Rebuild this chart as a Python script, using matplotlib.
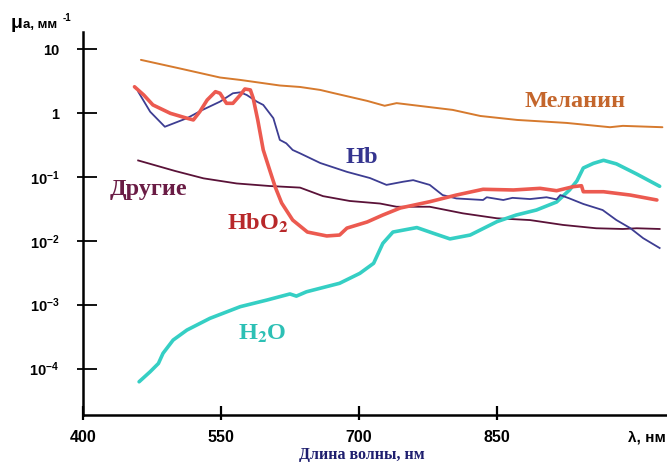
import matplotlib
matplotlib.use('Agg')
import matplotlib.pyplot as plt
from matplotlib.ticker import FixedLocator, NullFormatter

# ---- data (wavelength, nm ; absorption coefficient, mm^-1) ----
wl_melanin = [463, 505, 549, 571, 614, 636, 658, 672, 709, 728, 741, 802, 832, 872, 926, 973, 987, 1030]
mua_melanin = [6.8, 5.0, 3.6, 3.3, 2.7, 2.56, 2.3, 2.06, 1.55, 1.30, 1.43, 1.12, 0.90, 0.78, 0.70, 0.60, 0.63, 0.60]

wl_hb = [460, 473, 489, 513, 530, 549, 563, 571, 578, 589, 596, 607, 614, 621, 628, 636, 658, 687, 712,
         730, 748, 759, 777, 791, 806, 835, 839, 857, 867, 886, 904, 915, 919, 929, 944, 965, 980, 995, 1009, 1027]
mua_hb = [2.16, 1.05, 0.61, 0.83, 1.12, 1.51, 2.04, 2.11, 1.92, 1.51, 1.34, 0.83, 0.38, 0.336, 0.264, 0.234,
          0.165, 0.12, 0.096, 0.075, 0.084, 0.089, 0.075, 0.052, 0.046, 0.0435, 0.048, 0.0435, 0.047, 0.045,
          0.048, 0.0445, 0.052, 0.046, 0.0377, 0.0303, 0.0211, 0.0158, 0.0110, 0.0077]

wl_hbo2 = [456, 466, 476, 495, 513, 520, 527, 535, 544, 549, 556, 563, 571, 576, 582, 585, 590, 596, 603,
           609, 616, 628, 644, 665, 679, 687, 709, 726, 745, 777, 806, 835, 868, 897, 915, 933, 942, 944,
           966, 995, 1024]
mua_hbo2 = [2.58, 1.92, 1.34, 0.99, 0.83, 0.78, 1.05, 1.60, 2.16, 2.04, 1.42, 1.42, 1.92, 2.38, 2.30, 1.72,
            0.78, 0.264, 0.128, 0.0695, 0.039, 0.0211, 0.0137, 0.0119, 0.0123, 0.0158, 0.0197, 0.0253,
            0.0326, 0.0409, 0.052, 0.064, 0.0624, 0.0662, 0.0608, 0.0703, 0.0728, 0.0586, 0.0586, 0.052, 0.0435]

wl_h2o = [461, 473, 482, 487, 498, 513, 538, 571, 600, 625, 632, 643, 679, 701, 716, 726, 737, 763, 781,
          799, 821, 850, 871, 893, 915, 929, 937, 944, 955, 966, 980, 1002, 1027]
mua_h2o = [6.2e-5, 8.9e-5, 1.2e-4, 1.73e-4, 2.79e-4, 4.0e-4, 6.1e-4, 9.3e-4, 1.18e-3, 1.47e-3, 1.36e-3,
           1.59e-3, 2.16e-3, 3.09e-3, 4.44e-3, 9.1e-3, 0.0137, 0.0161, 0.0131, 0.0107, 0.0123, 0.0199,
           0.0253, 0.0303, 0.0405, 0.0624, 0.0863, 0.138, 0.163, 0.182, 0.160, 0.111, 0.0713]

wl_other = [460, 500, 531, 567, 603, 636, 661, 690, 723, 741, 777, 813, 850, 886, 922, 958, 987, 1002, 1027]
mua_other = [0.181, 0.124, 0.095, 0.079, 0.072, 0.068, 0.050, 0.042, 0.0383, 0.0341, 0.0341, 0.0269,
             0.0225, 0.0211, 0.0177, 0.0157, 0.0153, 0.0157, 0.0153]

xtick_values = [400, 550, 700, 850]
xtick_labels = ['400', '550', '700', '850']
ytick_values = [1e-4, 1e-3, 1e-2, 1e-1, 1, 10]
ytick_labels = ['$10^{-4}$', '$10^{-3}$', '$10^{-2}$', '$10^{-1}$', '1', '10']

# ---- style ----
plt.rcParams['font.family'] = ['Liberation Sans', 'DejaVu Sans']
plt.rcParams['mathtext.fontset'] = 'custom'
plt.rcParams['mathtext.rm'] = 'Liberation Sans:bold'
plt.rcParams['mathtext.it'] = 'Liberation Sans:bold'
plt.rcParams['mathtext.bf'] = 'Liberation Sans:bold'

W, H = 667, 462
fig = plt.figure(figsize=(W / 100, H / 100), dpi=100)
ax = fig.add_axes([83 / W, 1 - 415 / H, 1 - 83 / W, (415 - 32) / H])
ax.set_yscale('log')
ax.set_xlim(400, 1035)
ax.set_ylim(10 ** -4.728, 10 ** 1.269)

ax.plot(wl_melanin, mua_melanin, color='#D67A2E', lw=1.4, solid_capstyle='round')
ax.plot(wl_other, mua_other, color='#5A1238', lw=1.3)
ax.plot(wl_h2o, mua_h2o, color='#35CFC4', lw=2.6, solid_capstyle='round')
ax.plot(wl_hb, mua_hb, color='#3D3D92', lw=1.3)
ax.plot(wl_hbo2, mua_hbo2, color='#EC5A50', lw=2.6, solid_capstyle='round')

for s in ['top', 'right']:
    ax.spines[s].set_visible(False)
for s in ['left', 'bottom']:
    ax.spines[s].set_linewidth(1.8)

ax.xaxis.set_major_locator(FixedLocator(xtick_values))
ax.set_xticklabels(xtick_labels)
ax.xaxis.set_minor_locator(FixedLocator(xtick_values))
ax.xaxis.set_minor_formatter(NullFormatter())
ax.xaxis.remove_overlapping_locs = False
ax.yaxis.set_major_locator(FixedLocator(ytick_values))
ax.set_yticklabels(ytick_labels)
ax.yaxis.set_minor_locator(FixedLocator(ytick_values))
ax.yaxis.set_minor_formatter(NullFormatter())
ax.yaxis.remove_overlapping_locs = False

ax.tick_params(axis='x', which='major', direction='in', length=6.5, width=1.6, pad=11,
               labelsize=11.5)
ax.tick_params(axis='x', which='minor', direction='out', length=3.3, width=1.6)
ax.tick_params(axis='y', which='major', direction='in', length=10, width=1.3, pad=17,
               labelsize=10.5)
ax.tick_params(axis='y', which='minor', direction='out', length=4.5, width=1.3)
for lab in ax.get_xticklabels() + ax.get_yticklabels():
    lab.set_fontweight('bold')

# ---- curve labels ----
serif = ['Liberation Serif', 'DejaVu Serif']
lab_kw = dict(ha='center', va='center', fontsize=17.5, fontweight='bold', family=serif,
              math_fontfamily='stix')
ax.text(935, 1.49, 'Меланин', color='#C4662C', **lab_kw)
ax.text(703, 0.205, 'Hb', color='#35358F', **lab_kw)
ax.text(471, 0.0624, 'Другие', color='#6A1C45', **lab_kw)
ax.text(590, 0.019, r'HbO$_\mathbf{2}$', color='#B8282A', **lab_kw)
ax.text(595, 3.5e-4, r'H$_\mathbf{2}$O', color='#2DC0B5', **lab_kw)

# ---- axis titles ----
fig.text(11 / W, 1 - 28 / H, 'μ', fontsize=14, fontweight='bold', va='baseline', ha='left')
fig.text(23 / W, 1 - 28 / H, 'a, мм', fontsize=9.5, fontweight='bold', va='baseline', ha='left')
fig.text(63 / W, 1 - 21 / H, '-1', fontsize=7, fontweight='bold', va='baseline', ha='left')
fig.text(666 / W, 1 - 438 / H, 'λ, нм', fontsize=11, fontweight='bold', va='center', ha='right')
fig.text(362 / W, 1 - 455 / H, 'Длина волны, нм', fontsize=11.5, fontweight='bold', family=serif,
         color='#1E1E6E', va='center', ha='center')

fig.savefig('out.png', dpi=100)
